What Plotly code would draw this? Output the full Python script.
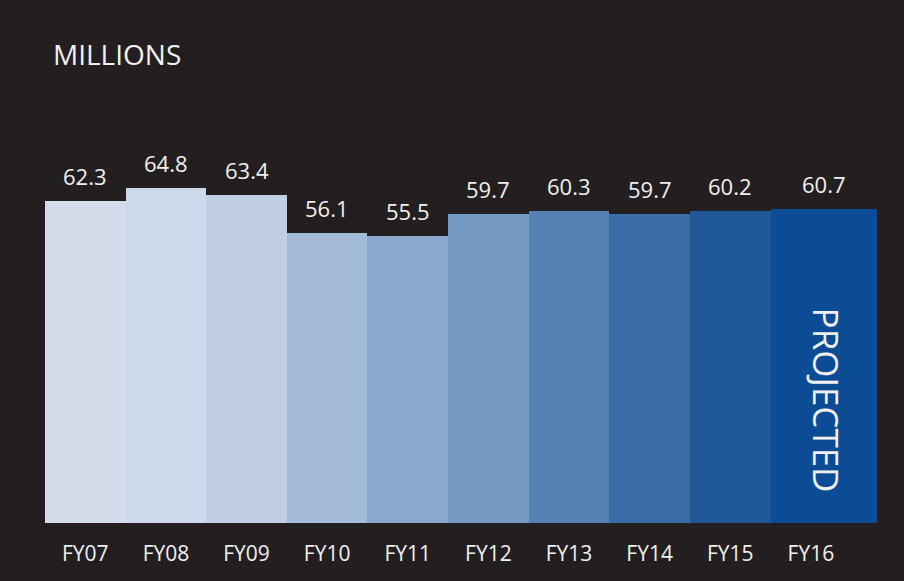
import plotly.graph_objects as go

categories = ["FY07", "FY08", "FY09", "FY10", "FY11", "FY12", "FY13", "FY14", "FY15", "FY16"]
values = [62.3, 64.8, 63.4, 56.1, 55.5, 59.7, 60.3, 59.7, 60.2, 60.7]
value_labels = ["62.3", "64.8", "63.4", "56.1", "55.5", "59.7", "60.3", "59.7", "60.2", "60.7"]
colors = ["#d4dcec", "#cdd8ea", "#c0cfe6", "#a3bad8", "#89a8cd", "#7599c3",
          "#5681b3", "#3a6ca5", "#215998", "#0c4c94"]
widths = [1, 1, 1, 1, 1, 1, 1, 1, 1, 1.32]

BG = "#231f20"
TXT = "#f0f0f0"
FONT = "'Open Sans', Lato, sans-serif"

xpos = list(range(len(categories)))
centers = [x - 0.5 + w / 2 for x, w in zip(xpos, widths)]

fig = go.Figure()
fig.add_trace(go.Bar(
    x=xpos,
    y=values,
    width=widths,
    offset=[-0.5] * len(values),
    marker=dict(color=colors, line=dict(width=0)),
    hoverinfo="skip",
))

for c, v, t in zip(centers, values, value_labels):
    fig.add_annotation(
        x=c, y=v, xref="x", yref="y", text=t, showarrow=False,
        xanchor="center", yanchor="bottom", yshift=8,
        font=dict(color=TXT, size=22, family=FONT),
    )

fig.add_annotation(
    x=0, y=1, xref="paper", yref="paper",
    xanchor="left", yanchor="middle",
    text="MILLIONS", showarrow=False,
    font=dict(color=TXT, size=28, family=FONT),
    xshift=6, yshift=55,
)

fig.add_annotation(
    x=9.19, y=23.8, xref="x", yref="y",
    text="PROJECTED", showarrow=False, textangle=90,
    font=dict(color=TXT, size=35, family=FONT),
)

fig.update_layout(
    width=904, height=581,
    margin=dict(l=45, r=27, t=109, b=58),
    paper_bgcolor=BG, plot_bgcolor=BG,
    showlegend=False,
    bargap=0,
    xaxis=dict(
        range=[-0.5, 9.82],
        tickmode="array", tickvals=xpos, ticktext=categories,
        tickfont=dict(color=TXT, size=21, family=FONT),
        showgrid=False, zeroline=False, showline=False,
        ticks="outside", ticklen=12, tickcolor=BG,
    ),
    yaxis=dict(
        range=[0, 80], visible=False, showgrid=False, zeroline=False,
    ),
)

fig.write_html("out.html")
